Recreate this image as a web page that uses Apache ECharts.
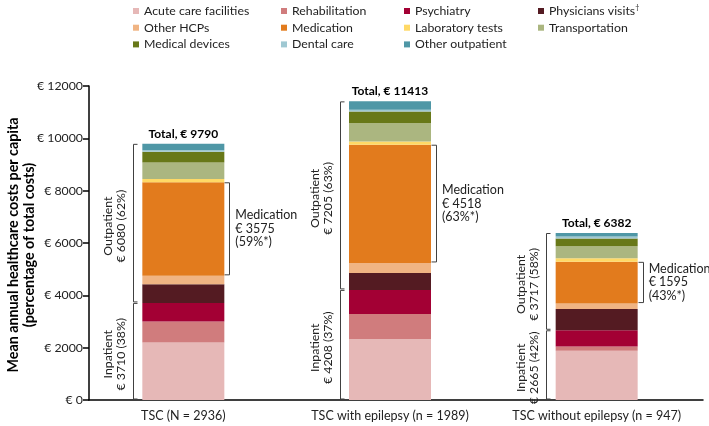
<!DOCTYPE html>
<html>
<head>
<meta charset="utf-8">
<script src="https://cdn.jsdelivr.net/npm/echarts@6/dist/echarts.min.js"></script>
<style>
html,body{margin:0;padding:0;background:#fff;}
#chart{width:709px;height:426px;}
</style>
</head>
<body>
<div id="chart"></div>
<script>
// ---- data ----
const categories = ['TSC (N = 2936)', 'TSC with epilepsy (n = 1989)', 'TSC without epilepsy (n = 947)'];
const acuteCare        = [2200, 2330, 1880];
const rehabilitation   = [800, 960, 160];
const psychiatry       = [710, 918, 625];
const physiciansVisits = [715, 645, 810];
const otherHCPs        = [320, 385, 210];
const medication       = [3575, 4518, 1595];
const laboratoryTests  = [130, 126, 140];
const transportation   = [630, 705, 455];
const medicalDevices   = [405, 435, 300];
const dentalCare       = [55, 71, 76];
const otherOutpatient  = [250, 320, 131];
const totals           = [9790, 11413, 6382];
const inpatientTotals  = [3710, 4208, 2665];
const outpatientTotals = [6080, 7205, 3717];
const inpatientPct     = [38, 37, 42];
const outpatientPct    = [62, 63, 58];
const medicationPct    = [59, 63, 43];
const yTicks = [0, 2000, 4000, 6000, 8000, 10000, 12000];

const FONT = 'Lato, "Liberation Sans", sans-serif';

const seriesDefs = [
  ['Acute care facilities', acuteCare, '#e6b8b7'],
  ['Rehabilitation', rehabilitation, '#d07c7d'],
  ['Psychiatry', psychiatry, '#a30034'],
  ['Physicians visits', physiciansVisits, '#541b22'],
  ['Other HCPs', otherHCPs, '#f0b483'],
  ['Medication', medication, '#e27b1d'],
  ['Laboratory tests', laboratoryTests, '#ffd966'],
  ['Transportation', transportation, '#abb680'],
  ['Medical devices', medicalDevices, '#687818'],
  ['Dental care', dentalCare, '#9fc8d2'],
  ['Other outpatient', otherOutpatient, '#4f97a6']
];

const BAR_W = 82;

const barSeries = seriesDefs.map((d, i) => ({
  name: d[0],
  type: 'bar',
  stack: 'total',
  xAxisIndex: 1,
  yAxisIndex: 1,
  barWidth: BAR_W,
  data: d[1],
  itemStyle: { color: d[2] },
  label: i === seriesDefs.length - 1 ? {
    show: true, position: 'top', distance: 4,
    formatter: p => 'Total, € ' + totals[p.dataIndex],
    fontFamily: FONT, fontWeight: 'bold', fontSize: 12, color: '#000'
  } : { show: false },
  emphasis: { disabled: true },
  animation: false
}));

// bracket data: [categoryIndex, low, high, side(0=left,1=right)] and texts
const bracketData = [];
const bracketTexts = [];
for (let i = 0; i < categories.length; i++) {
  bracketData.push([i, 0, inpatientTotals[i], 0]);
  bracketTexts.push('Inpatient\n€ ' + inpatientTotals[i] + ' (' + inpatientPct[i] + '%)');
  bracketData.push([i, inpatientTotals[i], totals[i], 0]);
  bracketTexts.push('Outpatient\n€ ' + outpatientTotals[i] + ' (' + outpatientPct[i] + '%)');
  const medStart = acuteCare[i] + rehabilitation[i] + psychiatry[i] + physiciansVisits[i] + otherHCPs[i];
  bracketData.push([i, medStart, medStart + medication[i], 1]);
  bracketTexts.push('Medication\n€ ' + medication[i] + '\n(' + medicationPct[i] + '%*)');
}

const bracketSeries = {
  type: 'custom',
  xAxisIndex: 1,
  yAxisIndex: 1,
  silent: true,
  clip: false,
  animation: false,
  encode: { x: 0, y: [1, 2] },
  data: bracketData,
  renderItem: function (params, api) {
    const ci = api.value(0), lo = api.value(1), hi = api.value(2), side = api.value(3);
    const pLo = api.coord([ci, lo]);
    const pHi = api.coord([ci, hi]);
    const cx = pLo[0];
    const yLo = pLo[1] - 1, yHi = pHi[1] + 0.5;
    const text = bracketTexts[params.dataIndex];
    if (side === 0) {
      const x = Math.round(cx - BAR_W / 2 - 9.5) + 0.5;
      return {
        type: 'group',
        children: [
          { type: 'polyline', shape: { points: [[x + 4, yHi], [x, yHi], [x, yLo], [x + 4, yLo]] },
            style: { stroke: '#404040', lineWidth: 1, fill: null } },
          { type: 'text', x: x - 19, y: (yLo + yHi) / 2 + 3, rotation: Math.PI / 2,
            style: { text: text, fontFamily: FONT, fontSize: 12.3, lineHeight: 13,
                     align: 'center', verticalAlign: 'middle', fill: '#222' } }
        ]
      };
    } else {
      const x = Math.round(cx + BAR_W / 2 + 5) + 0.5;
      return {
        type: 'group',
        children: [
          { type: 'polyline', shape: { points: [[x - 5, yHi], [x, yHi], [x, yLo], [x - 5, yLo]] },
            style: { stroke: '#404040', lineWidth: 1, fill: null } },
          { type: 'text', x: cx + BAR_W / 2 + 11, y: (yLo + yHi) / 2,
            style: { text: text, fontFamily: FONT, fontSize: 12.5, lineHeight: 13.5,
                     align: 'left', verticalAlign: 'middle', fill: '#222' } }
        ]
      };
    }
  }
};

const legendCommon = {
  orient: 'vertical',
  top: 4,
  padding: 0,
  itemWidth: 6,
  itemHeight: 6,
  itemGap: 2.7,
  icon: 'rect',
  selectedMode: false,
  textStyle: { fontFamily: FONT, fontSize: 12.3, lineHeight: 14, color: '#222',
    rich: {
      n: { fontFamily: FONT, fontSize: 12.3, color: '#222' },
      s: { fontFamily: FONT, fontSize: 7, color: '#222', padding: [0, 0, 7, 0] }
    }
  },
  formatter: name => name === 'Physicians visits' ? '{n|Physicians visits}{s|†}' : name
};

const option = {
  backgroundColor: '#fff',
  animation: false,
  legend: [
    Object.assign({}, legendCommon, { left: 133, data: ['Acute care facilities', 'Other HCPs', 'Medical devices'] }),
    Object.assign({}, legendCommon, { left: 281, data: ['Rehabilitation', 'Medication', 'Dental care'] }),
    Object.assign({}, legendCommon, { left: 404, data: ['Psychiatry', 'Laboratory tests', 'Other outpatient'] }),
    Object.assign({}, legendCommon, { left: 538, data: ['Physicians visits', 'Transportation'] })
  ],
  grid: [
    { left: 89, right: 6, top: 86, bottom: 26 },
    { left: 80, right: 9, top: 86, bottom: 26 }
  ],
  xAxis: [
    { type: 'value', gridIndex: 0, min: 0, max: 1,
      axisLine: { show: true, onZero: false, lineStyle: { color: '#000', width: 1.5 } },
      axisTick: { show: false }, axisLabel: { show: false }, splitLine: { show: false } },
    { type: 'category', gridIndex: 1, data: categories,
      axisLine: { show: false }, axisTick: { show: false },
      axisLabel: { fontFamily: FONT, fontSize: 12.5, color: '#222', margin: 9, interval: 0 } }
  ],
  yAxis: [
    { type: 'value', gridIndex: 0, min: yTicks[0], max: yTicks[yTicks.length - 1], interval: 2000,
      axisLine: { show: true, lineStyle: { color: '#000', width: 1.5 } },
      axisTick: { show: true, inside: false, length: 6, lineStyle: { color: '#000', width: 1.5 } },
      axisLabel: { fontFamily: FONT, fontSize: 12.3, color: '#222', margin: 6, formatter: v => '€ ' + v },
      splitLine: { show: false } },
    { type: 'value', gridIndex: 1, min: yTicks[0], max: yTicks[yTicks.length - 1], interval: 2000,
      show: false }
  ],
  graphic: [
    { type: 'text', x: 21, y: 245, rotation: Math.PI / 2,
      style: { text: 'Mean annual healthcare costs per capita\n(percentage of total costs)',
               fontFamily: FONT, fontWeight: 'bold', fontSize: 14.3, lineHeight: 16,
               align: 'center', verticalAlign: 'middle', fill: '#000' } }
  ],
  series: barSeries.concat([bracketSeries])
};

const chart = echarts.init(document.getElementById('chart'), null, { renderer: 'canvas' });
chart.setOption(option);
</script>
</body>
</html>
